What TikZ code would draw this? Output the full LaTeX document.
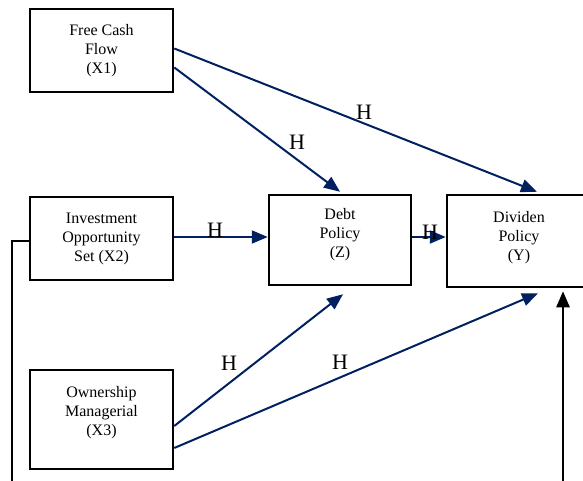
\documentclass[tikz,border=0pt]{standalone}
\usepackage{fontspec}
\setmainfont{Liberation Serif}
\usetikzlibrary{arrows.meta}
\definecolor{navy}{RGB}{0,32,96}

\begin{document}
\begin{tikzpicture}[x=1pt,y=-1pt,
  var/.style={draw,line width=2.5pt,align=center,inner sep=0pt,font=\fontsize{16}{19}\selectfont},
  hyp/.style={draw=navy,line width=2pt,-{Triangle[length=16pt,width=13pt]}},
  hlab/.style={font=\fontsize{22}{24}\selectfont,inner sep=0pt}]
\clip (0,0) rectangle (583,481);
\node[var,minimum width=143pt,minimum height=83pt] (fcf) at (101.5,50.5) {Free Cash\\Flow\\(X1)};
\node[var,minimum width=143pt,minimum height=83pt] (ios) at (101.5,238.5) {Investment\\Opportunity\\Set (X2)};
\node[var,minimum width=143pt,minimum height=99pt] (own) at (101.5,419.5) {Ownership\\Managerial\\(X3)\\[-2pt]};
\node[var,minimum width=142pt,minimum height=90pt] (debt) at (340,240) {Debt\\Policy\\(Z)\\[-4pt]};
\node[var,minimum width=144pt,minimum height=92pt] (div) at (519,241) {Dividen\\Policy\\(Y)\\[-8pt]};
\coordinate (lbot) at (12,481);
\coordinate (rbot) at (563,481);
\draw[hyp] ([yshift=2pt]fcf.east) -- ([xshift=18pt,yshift=2pt]div.north);
\draw[hyp] ([yshift=-17pt]fcf.east) -- ([yshift=2pt]debt.north);
\draw[hyp] ([yshift=1.5pt]ios.east) -- ([yshift=3pt]debt.west);
\draw[hyp] ([yshift=3pt]debt.east) -- ([yshift=4pt]div.west);
\draw[hyp] ([yshift=-6.5pt]own.east) -- ([xshift=3pt,yshift=-8pt]debt.south);
\draw[hyp] ([yshift=-28.5pt]own.east) -- ([xshift=19pt,yshift=-5pt]div.south);
\draw[line width=2.5pt,-{Triangle[length=16pt,width=13pt]}] (rbot) -- ([xshift=44pt,yshift=-3pt]div.south);
\draw[line width=2.5pt] (lbot) -- (12,241) -- ([yshift=-2.5pt]ios.west);
\node[hlab] (h1) at (364,112) {H};
\node[hlab] (h2) at (297,142) {H};
\node[hlab] (h3) at (215,230) {H};
\node[hlab] (h4) at (430,232) {H};
\node[hlab] (h5) at (229,363) {H};
\node[hlab] (h6) at (340,362) {H};
\end{tikzpicture}
\end{document}
